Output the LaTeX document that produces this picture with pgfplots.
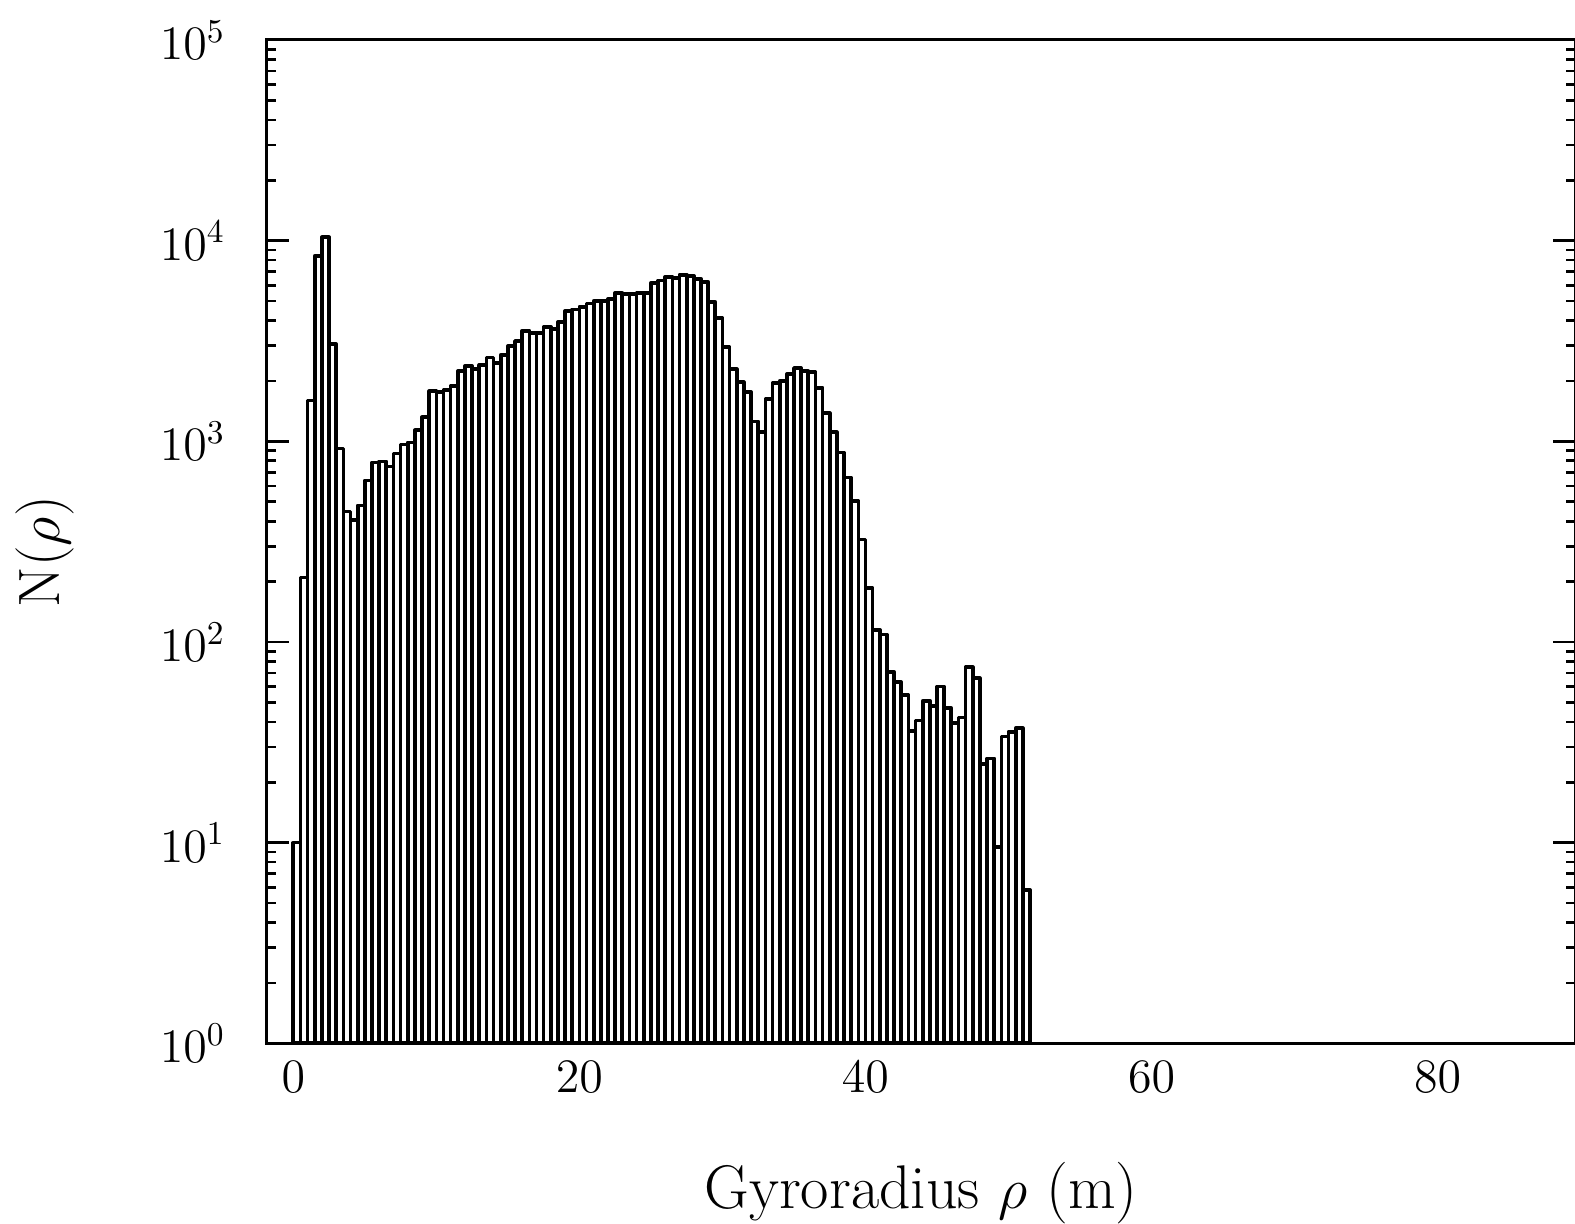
\documentclass[border=0pt]{standalone}
\usepackage{fontspec}
\usepackage{pgfplots}
\usepackage{pgfplotstable}
\pgfplotsset{compat=1.18}
\pgfplotstableread{
x N
0.0 10
0.5 210
1.0 1600
1.5 8400
2.0 10400
2.5 3050
3.0 920
3.5 447
4.0 407
4.5 479
5.0 638
5.5 785
6.0 794
6.5 750
7.0 871
7.5 966
8.0 988
8.5 1135
9.0 1318
9.5 1778
10.0 1758
10.5 1800
11.0 1884
11.5 2240
12.0 2370
12.5 2290
13.0 2400
13.5 2620
14.0 2455
14.5 2700
15.0 2985
15.5 3160
16.0 3560
16.5 3470
17.0 3470
17.5 3720
18.0 3640
18.5 3940
19.0 4470
19.5 4540
20.0 4680
20.5 4860
21.0 5010
21.5 5010
22.0 5130
22.5 5500
23.0 5410
23.5 5410
24.0 5490
24.5 5500
25.0 6170
25.5 6330
26.0 6610
26.5 6530
27.0 6760
27.5 6680
28.0 6460
28.5 6240
29.0 4960
29.5 4120
30.0 2950
30.5 2290
31.0 1972
31.5 1758
32.0 1256
32.5 1110
33.0 1620
33.5 1950
34.0 2000
34.5 2160
35.0 2320
35.5 2240
36.0 2210
36.5 1850
37.0 1380
37.5 1110
38.0 880
38.5 660
39.0 505
39.5 324
40.0 186
40.5 115
41.0 109
41.5 71
42.0 63
42.5 54.5
43.0 36
43.5 40.6
44.0 51
44.5 48
45.0 60
45.5 46.8
46.0 39.6
46.5 42
47.0 75
47.5 66
48.0 24.6
48.5 26.3
49.0 9.5
49.5 33.8
50.0 35.7
50.5 37.2
51.0 5.8
51.5 5.8
}\histdata
\begin{document}
\begin{tikzpicture}
\begin{axis}[
  name=ax,
  scale only axis,
  width=392.4pt, height=301pt,
  xmin=-1.84, xmax=89.6,
  ymode=log, ymin=1, ymax=1e5,
  xtick={0,20,40,60,80},
  xtick style={draw=none},
  ytick={1,10,100,1000,10000,100000},
  axis line style={line width=0.9pt},
  every tick/.style={black, line width=0.8pt},
  major tick length=6.6pt,
  minor tick length=2.6pt,
  tick label style={font=\Large},
  xticklabel style={yshift=-2pt},
  yticklabel style={xshift=-9pt},
  every axis x label/.style={at={(axis description cs:0.5,0)}, anchor=center, yshift=-44.8pt},
  every axis y label/.style={at={(axis description cs:-0.1697,0.49)}, anchor=center, rotate=90},
  xlabel={\fontsize{18.5}{21}\selectfont Gyroradius $\rho$ (m)},
  ylabel={\fontsize{17.5}{20}\selectfont N($\rho$)},
]
\addplot[ybar interval, draw=black, fill=white, line width=1.1pt, line join=round] table[x=x, y=N] {\histdata};
\end{axis}
\pgfresetboundingbox
\path[use as bounding box] ([xshift=-80.1pt, yshift=-54pt]ax.south west) rectangle ([yshift=12pt]ax.north east);
\end{tikzpicture}
\end{document}
